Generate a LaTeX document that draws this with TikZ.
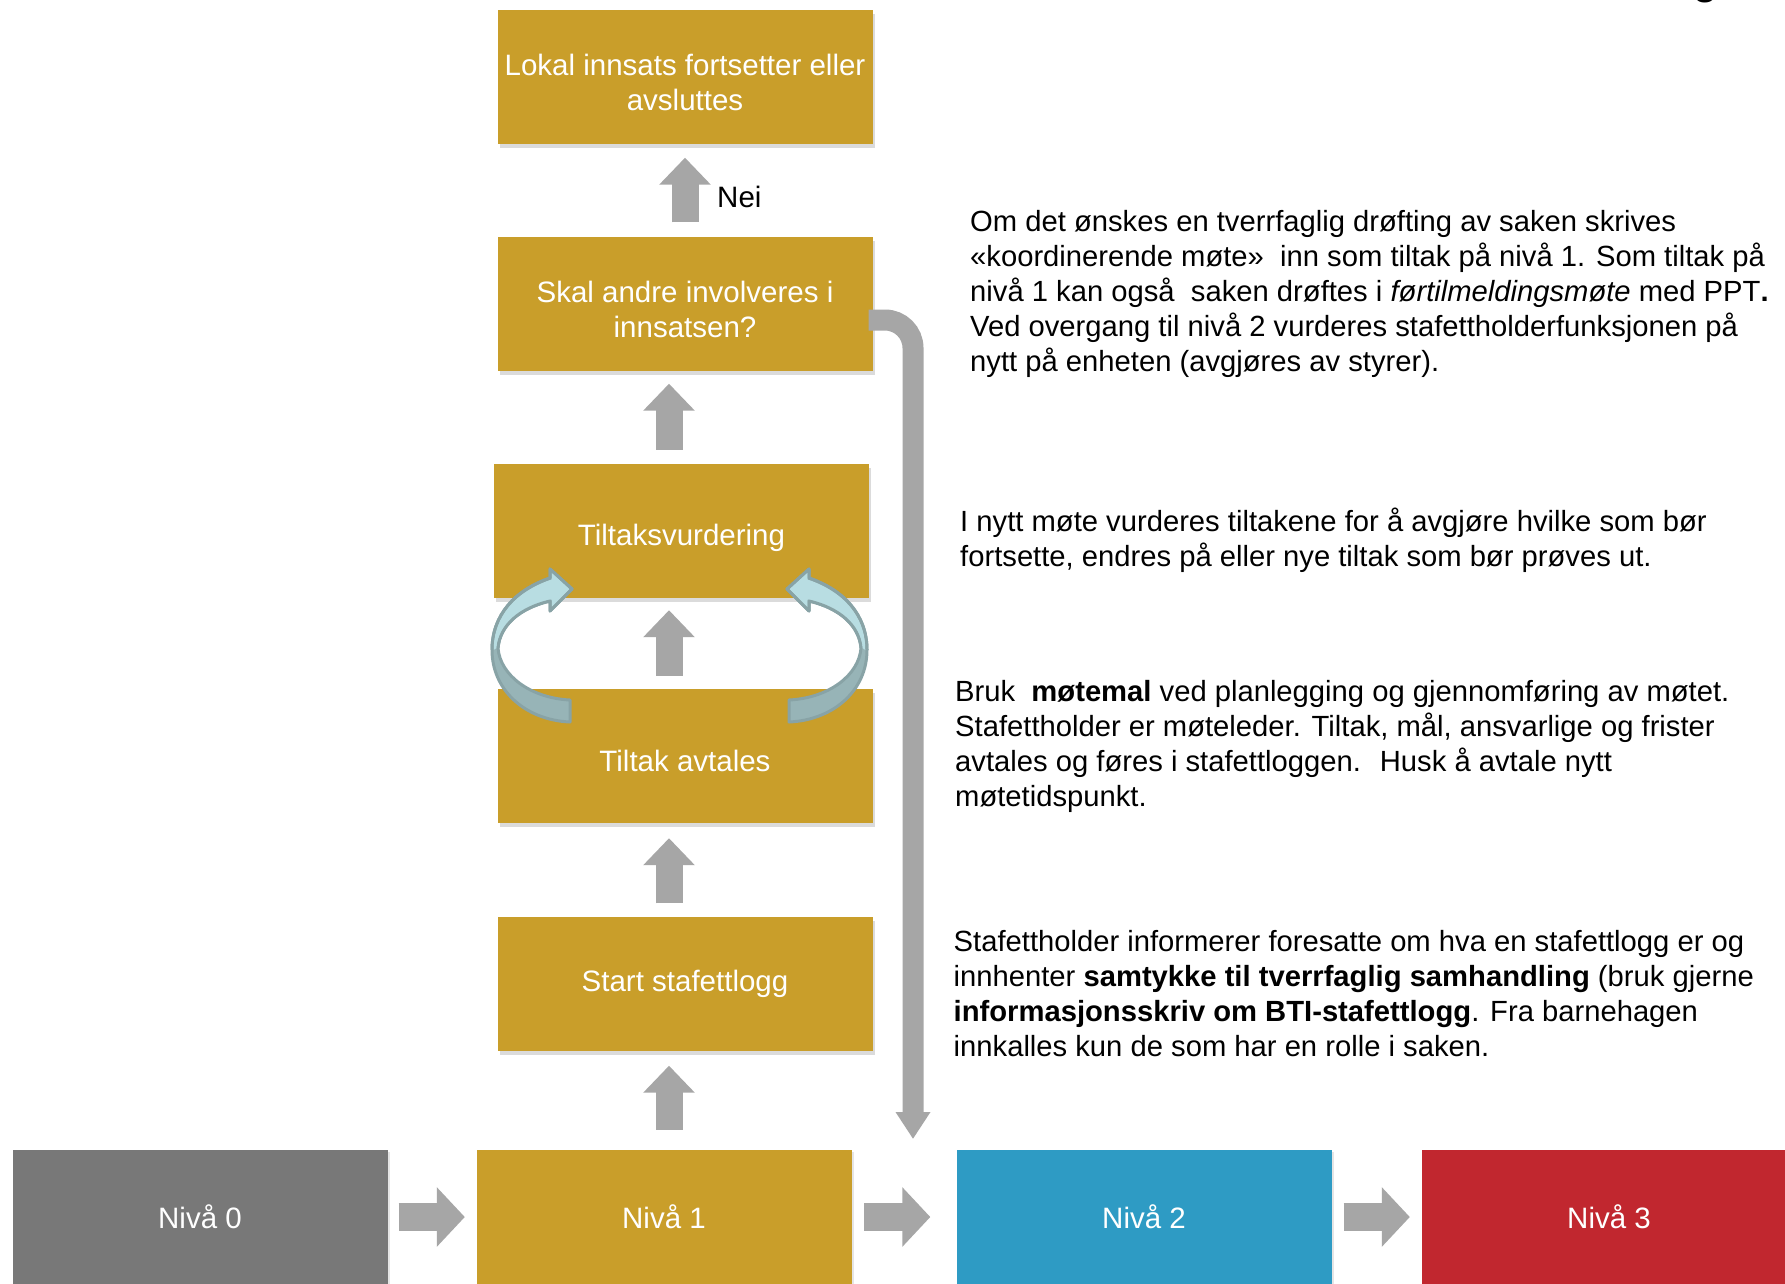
\documentclass[tikz,border=0pt]{standalone}
\usepackage{fontspec}
\setmainfont{Liberation Sans}
\usetikzlibrary{arrows.meta,shadows,calc}
\definecolor{gold}{HTML}{C99E2A}
\definecolor{lvgray}{HTML}{787878}
\definecolor{lvblue}{HTML}{2E9BC4}
\definecolor{lvred}{HTML}{C1272F}
\definecolor{arrgray}{HTML}{A6A6A6}
\definecolor{cfill}{HTML}{B8DDE2}
\definecolor{cdark}{HTML}{97B4B7}
\definecolor{cline}{HTML}{88A3A6}
\newcommand{\bodyfnt}{\fontsize{29.5}{35}\selectfont}
\newcommand{\sidefnt}{\fontsize{29.2}{35}\selectfont}
\begin{document}
\begin{tikzpicture}[x=1pt,y=-1pt,
  box/.style={fill=gold, minimum width=375pt, minimum height=134pt, inner sep=2pt,
    text=white, align=center, font=\bodyfnt,
    drop shadow={opacity=0.28, shadow xshift=2pt, shadow yshift=-4pt}},
  level/.style={minimum width=375pt, minimum height=134pt, inner sep=2pt,
    text=white, font=\bodyfnt,
    drop shadow={opacity=0.2, shadow xshift=2pt, shadow yshift=-2pt}},
  txt/.style={anchor=base west, inner sep=0pt, align=left, font=\sidefnt},
  uparrow/.style={draw=arrgray, line width=27pt, -{Triangle[width=50pt,length=27pt]}},
  harrow/.style={draw=arrgray, line width=28pt, -{Triangle[width=58pt,length=28pt]}},
  downconn/.style={draw=arrgray, line width=21pt, rounded corners=28pt, -{Triangle[width=33pt,length=27pt]}},
  curvefill/.style={fill=cdark, draw=cline, line width=3pt, line join=round},
  curvetop/.style={fill=cfill, draw=none}
]
\fill[white] (0,0) rectangle (1785,1283);
\useasboundingbox (0,0) rectangle (1785,1283);

% fragment of title letter at top edge
\node[anchor=base, inner sep=0pt, font=\fontsize{40}{48}\selectfont\bfseries] (titleg) at (1706,-5.5) {g};

% flow boxes
\node[box] (lokal) at (685,76.5) {\rule{0pt}{33pt}Lokal innsats fortsetter eller\\avsluttes};
\node[box] (skal) at (685,303.5) {\rule{0pt}{33pt}Skal andre involveres i\\innsatsen?};
\node[box] (vurd) at (681.5,531) {\rule{0pt}{35pt}Tiltaksvurdering};
\node[box] (avt) at (685,756) {\rule{0pt}{30.5pt}Tiltak avtales};
\node[box] (start) at (685,983.5) {Start stafettlogg};

% levels
\node[level, fill=lvgray] (n0) at (200,1217) {Nivå 0};
\node[level, fill=gold] (n1) at (664,1217) {Nivå 1};
\node[level, fill=lvblue] (n2) at (1144,1217) {Nivå 2};
\node[level, fill=lvred] (n3) at (1609,1217) {Nivå 3};

% level arrows
\draw[harrow] ([xshift=11pt]n0.east) -- ([xshift=-11.5pt]n1.west);
\draw[harrow] ([xshift=12.5pt]n1.east) -- ([xshift=-26pt]n2.west);
\draw[harrow] ([xshift=12pt]n2.east) -- ([xshift=-11.5pt]n3.west);

% up arrows
\draw[uparrow] ([xshift=5pt,yshift=20pt]n1.north) -- ([xshift=-16pt,yshift=-15pt]start.south);
\draw[uparrow] ([xshift=-16pt,yshift=13pt]start.north) -- ([xshift=-16pt,yshift=-15pt]avt.south);
\draw[uparrow] ([xshift=-16pt,yshift=13pt]avt.north) -- ([xshift=-12.5pt,yshift=-12pt]vurd.south);
\draw[uparrow] ([xshift=-12.5pt,yshift=14pt]vurd.north) -- ([xshift=-16pt,yshift=-13pt]skal.south);
\draw[uparrow] ([yshift=14pt]skal.north) -- ([yshift=-14pt]lokal.south);
\node[anchor=base west, inner sep=0pt, font=\bodyfnt] (nei) at (717,207) {Nei};

% connector to level 2
\coordinate (ddown) at (913,1139);
\draw[downconn] ([xshift=-4pt,yshift=-16.5pt]skal.east) -| (ddown);

% curved cycle arrows
\foreach \sx/\ox in {1/0, -1/1359} {
  \begin{scope}[shift={(\ox,0)}, xscale=\sx]
    \path[curvefill] (570,722) .. controls (525,720) and (492,690) .. (492,650)
      .. controls (492,615) and (515,590) .. (550,578) -- (550,569) -- (572,589)
      -- (550,611) -- (550,601) .. controls (520,608) and (500,625) .. (498,648)
      .. controls (500,675) and (530,698) .. (570,700) -- cycle;
    \path[curvetop] (493.5,650) .. controls (493.5,616) and (516,591.5) .. (551.5,579.5)
      -- (551.5,572.5) -- (569.5,589) -- (551.5,607.5) -- (551.5,599.5)
      .. controls (520,606.5) and (499,624) .. (496.5,648) -- cycle;
    \path[draw=cline, line width=3pt, line join=round] (492,650)
      .. controls (492,615) and (515,590) .. (550,578) -- (550,569) -- (572,589)
      -- (550,611) -- (550,601) .. controls (520,608) and (500,625) .. (498,648);
  \end{scope}
}

% explanatory texts (anchored at the baseline of their last line)
\node[txt] (t1) at (970,371.7) {Om det ønskes en tverrfaglig drøfting av saken skrives\\«koordinerende møte»~ inn som tiltak på nivå 1. Som tiltak på\\nivå 1 kan også~ saken drøftes i \textit{førtilmeldingsmøte} med PPT\textbf{.}\\Ved overgang til nivå 2 vurderes stafettholderfunksjonen på\\nytt på enheten (avgjøres av styrer).};
\node[txt] (t2) at (960,566) {I nytt møte vurderes tiltakene for å avgjøre hvilke som bør\\fortsette, endres på eller nye tiltak som bør prøves ut.};
\node[txt] (t3) at (955,806.7) {Bruk~ \textbf{møtemal} ved planlegging og gjennomføring av møtet.\\Stafettholder er møteleder. Tiltak, mål, ansvarlige og frister\\avtales og føres i stafettloggen.~ Husk å avtale nytt\\møtetidspunkt.};
\node[txt] (t4) at (953.5,1056.7) {Stafettholder informerer foresatte om hva en stafettlogg er og\\innhenter \textbf{samtykke til tverrfaglig samhandling} (bruk gjerne\\\textbf{informasjonsskriv om BTI-stafettlogg}. Fra barnehagen\\innkalles kun de som har en rolle i saken.};
\end{tikzpicture}
\end{document}
